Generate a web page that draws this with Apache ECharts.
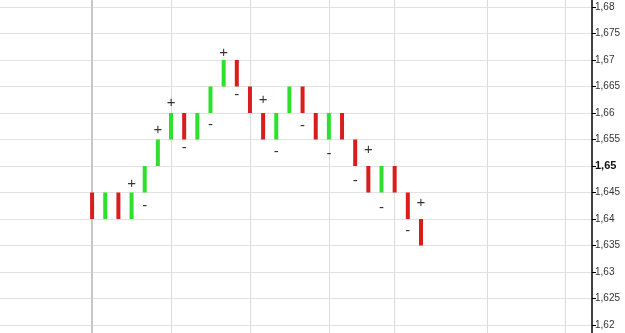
<!DOCTYPE html>
<html>
<head>
<meta charset="utf-8">
<script src="https://cdn.jsdelivr.net/npm/echarts@6/dist/echarts.min.js"></script>
<style>
html,body{margin:0;padding:0;background:#fff;}
#chart{width:625px;height:333px;}
</style>
</head>
<body>
<div id="chart"></div>
<script>
// Brick index (x position), lows, highs, direction (1 = up/green, -1 = down/red)
const brickIndex = [0,1,2,3,4,5,6,7,8,9,10,11,12,13,14,15,16,17,18,19,20,21,22,23,24,25];
const brickLow  = [1.640,1.640,1.640,1.640,1.645,1.650,1.655,1.655,1.655,1.660,1.665,1.665,1.660,
                   1.655,1.655,1.660,1.660,1.655,1.655,1.655,1.650,1.645,1.645,1.645,1.640,1.635];
const brickHigh = [1.645,1.645,1.645,1.645,1.650,1.655,1.660,1.660,1.660,1.665,1.670,1.670,1.665,
                   1.660,1.660,1.665,1.665,1.660,1.660,1.660,1.655,1.650,1.650,1.650,1.645,1.640];
const brickDir  = [-1,1,-1,1,1,1,1,-1,1,1,1,-1,-1,-1,1,1,-1,-1,1,-1,-1,-1,1,-1,-1,-1];

// +/- signal markers
const signalIndex = [3,4,5,6,7,9,10,11,13,14,16,18,20,21,22,25,24];
const signalValue = [1.6466,1.6425,1.6568,1.6619,1.6534,1.6577,1.6713,1.6634,1.6625,1.6526,1.6575,1.6523,1.6472,1.6530,1.6421,1.6430,1.6377];
const signalText  = ['+','-','+','+','-','-','+','-','+','-','-','-','-','+','-','+','-'];

// axis ticks
const yTicks = [1.62,1.625,1.63,1.635,1.64,1.645,1.65,1.655,1.66,1.665,1.67,1.675,1.68];
const vLines = [0,6,12,18,23,30,36];

const chart = echarts.init(document.getElementById('chart'), null, {renderer:'canvas'});

const brickData = brickIndex.map((x,i)=>[x, brickLow[i], brickHigh[i], brickDir[i]]);
const signalData = signalIndex.map((x,i)=>({value:[x, signalValue[i]], txt: signalText[i]}));

function fmt(v){
  let s = Number(v).toFixed(3).replace(/0+$/,'');
  return s.replace('.',',');
}

chart.setOption({
  animation:false,
  backgroundColor:'#ffffff',
  grid:{left:0,right:33,top:0,bottom:0},
  xAxis:{
    type:'value', min:-7, max:38,
    axisLine:{show:false, onZero:false}, axisTick:{show:false}, axisLabel:{show:false},
    splitLine:{show:false}
  },
  yAxis:{
    type:'value', position:'right',
    min:1.618491, max:1.681321,
    axisLine:{show:true, onZero:false, lineStyle:{color:'#000', width:1.5}},
    axisTick:{show:true, length:4, inside:false, customValues:yTicks, lineStyle:{color:'#000'}},
    axisLabel:{
      customValues:yTicks, margin:3, color:'#333', fontSize:10,
      fontFamily:'Liberation Sans, Arial, sans-serif',
      formatter:function(v){ const s=fmt(v); return s==='1,65' ? '{b|'+s+'}' : s; },
      rich:{b:{fontWeight:'bold', fontSize:11, color:'#111', fontFamily:'Liberation Sans, Arial, sans-serif'}}
    },
    splitLine:{show:true, lineStyle:{color:'#e2e2e2', width:1}}
  },
  series:[
    {
      type:'scatter',
      data:[],
      z:1,
      silent:true,
      markLine:{
        silent:true, symbol:'none', label:{show:false}, animation:false,
        data: vLines.map((v,i)=>({xAxis:v, lineStyle:{color: i===0 ? '#c8c8c8' : '#dcdcdc', width: i===0 ? 2 : 1, type:'solid'}}))
      }
    },
    {
      type:'custom',
      data:brickData,
      z:5,
      encode:{x:0, y:[1,2]},
      renderItem:function(params, api){
        const x = api.value(0);
        const p1 = api.coord([x, api.value(1)]);
        const p2 = api.coord([x, api.value(2)]);
        const w = 4;
        return {
          type:'rect',
          shape:{x:p1[0]-w/2, y:p2[1], width:w, height:p1[1]-p2[1]},
          style:{fill: api.value(3) > 0 ? '#2ee02e' : '#d91c1c'}
        };
      }
    },
    {
      type:'scatter',
      data:signalData,
      symbolSize:1,
      itemStyle:{color:'rgba(0,0,0,0)'},
      z:6,
      label:{
        show:true, position:'inside', color:'#000', fontSize:15,
        fontFamily:'Liberation Sans, Arial, sans-serif',
        formatter:function(p){ return p.data.txt; }
      }
    }
  ]
});
</script>
</body>
</html>
